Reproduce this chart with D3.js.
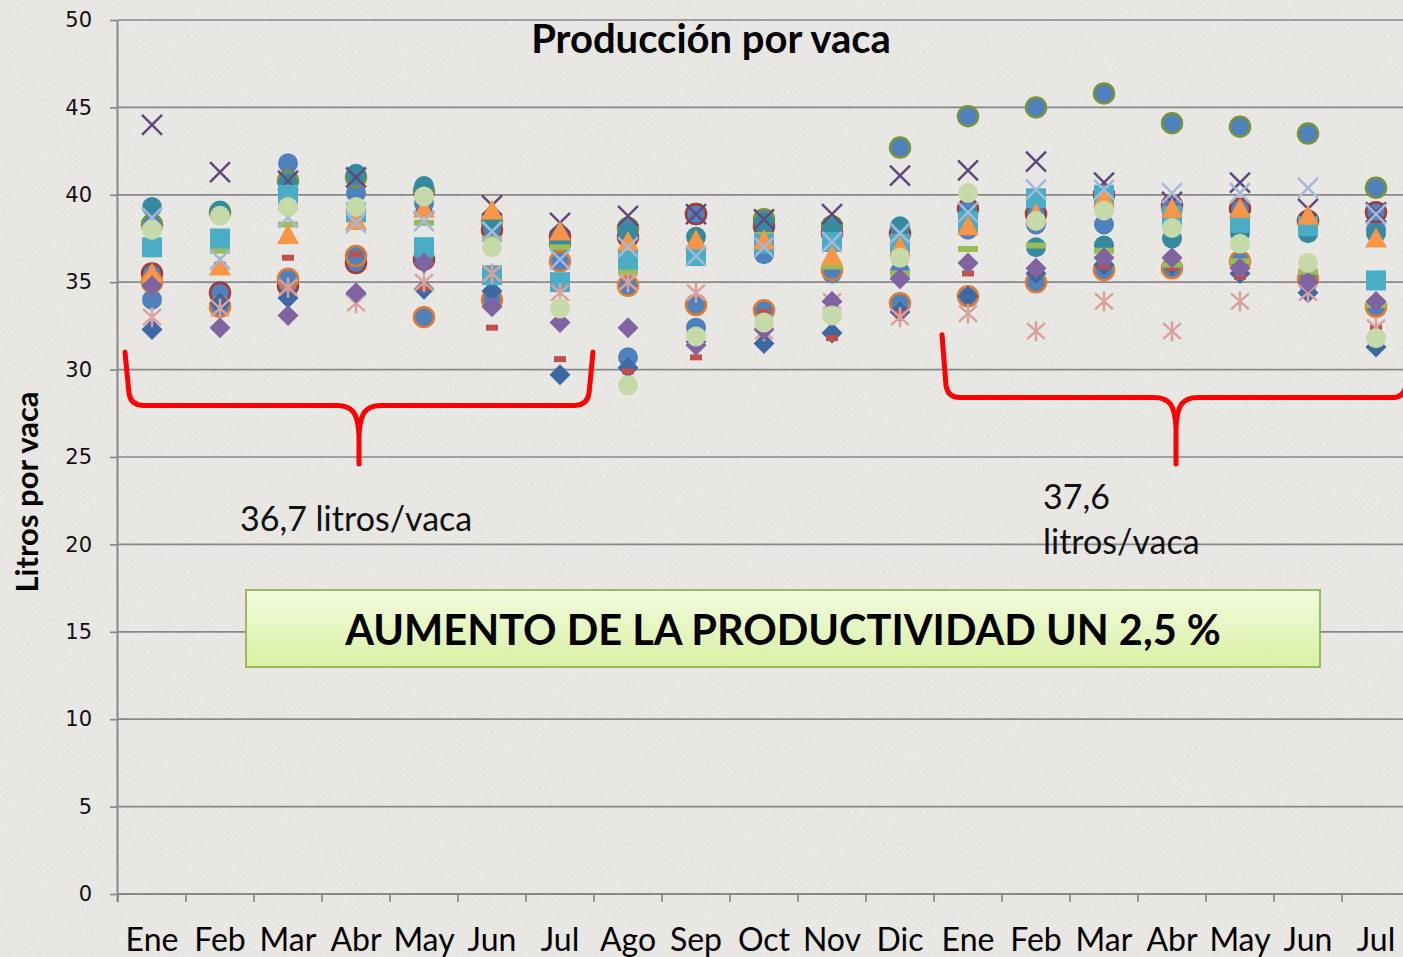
<!DOCTYPE html>
<meta charset="utf-8">
<style>
body { margin: 0; background: #ebeae6; }
svg { display: block; }
.tick text { font-family: "DejaVu Sans", sans-serif; font-size: 21px; fill: #111; }
</style>

<svg width="1403" height="957"></svg>

<script src="https://d3js.org/d3.v7.min.js"></script>
<script>

var svg = d3.select("svg"),
    width = +svg.attr("width"),
    height = +svg.attr("height");

// meses (dos años)
var meses = ["Ene","Feb","Mar","Abr","May","Jun","Jul","Ago","Sep","Oct","Nov","Dic",
             "Ene","Feb","Mar","Abr","May","Jun","Jul"];

var yTicks = [0, 5, 10, 15, 20, 25, 30, 35, 40, 45, 50];

// litros por vaca, una lista por explotación
var diamanteAzul   = [32.3,33.8,34.1,34.3,34.6,34.5,29.7,30.1,31.6,31.5,32.1,33.3,34.2,35.5,36.0,36.0,35.5,34.4,31.3];
var guionRojo      = [35.4,36.0,36.4,36.6,34.7,32.4,30.6,29.9,30.7,33.3,31.8,33.2,35.5,35.6,35.9,35.8,35.3,35.3,32.4];
var guionVerde     = [36.9,36.8,38.3,38.6,38.4,37.5,37.0,35.6,36.6,37.7,35.9,35.5,36.9,37.1,36.8,36.0,36.2,35.6,33.7];
var circuloAzul    = [34.0,34.5,41.8,40.1,39.5,38.2,37.0,30.7,32.4,36.6,35.5,35.6,38.0,38.3,38.3,38.5,38.0,35.0,38.0];
var anilloVerde    = [38.3,39.0,40.8,41.0,40.2,38.5,37.2,38.1,38.9,38.6,38.2,42.7,44.5,45.0,45.8,44.1,43.9,43.5,40.4];
var anilloRojo     = [35.5,34.4,34.8,36.1,36.3,38.0,37.6,37.6,38.9,38.2,37.8,37.8,39.2,38.9,40.0,39.4,39.2,38.5,39.0];
var circuloTeal    = [39.3,39.1,40.6,41.2,40.5,38.4,37.4,37.8,37.6,38.4,38.0,38.2,38.7,37.0,37.1,37.5,37.8,37.8,37.8];
var anilloNaranja  = [35.0,33.6,35.2,36.5,33.0,34.0,36.2,34.8,33.7,33.4,35.7,33.8,34.2,35.0,35.7,35.8,36.2,35.2,33.6];
var cuadradoCian   = [37.0,37.5,40.0,39.0,37.0,35.4,35.0,36.3,36.5,37.2,37.3,37.2,38.5,39.8,40.0,38.8,38.4,38.2,35.1];
var trianguloNar   = [35.5,35.9,37.7,38.5,39.2,39.1,37.9,37.3,37.4,37.4,36.5,37.0,38.2,38.9,39.8,39.2,39.2,38.8,37.5];
var aspaMorada     = [44.0,41.3,40.8,41.0,39.5,39.4,38.4,38.8,38.9,38.6,38.9,41.1,41.4,41.9,40.7,39.6,40.7,39.2,39.0];
var aspaCeleste    = [38.7,36.3,38.7,38.4,38.5,37.9,36.3,37.0,36.5,37.0,37.3,37.8,39.0,40.3,40.3,40.1,40.1,40.4,38.9];
var asteriscoRosa  = [33.0,33.5,34.7,33.8,35.0,35.5,34.4,35.0,34.4,32.2,33.9,33.0,33.2,32.2,33.9,32.2,33.9,34.4,32.4];
var diamanteMorado = [34.8,32.4,33.1,34.4,36.1,33.6,32.7,32.4,31.4,32.3,33.9,35.2,36.1,35.8,36.4,36.4,35.8,35.0,33.9];
var circuloVerdeCl = [38.0,38.8,39.3,39.3,39.9,37.0,33.5,29.1,31.9,32.7,33.1,36.4,40.1,38.5,39.1,38.1,37.2,36.1,31.8];

// orden de dibujo y estilo de cada serie
var series = [
  {v: circuloAzul,    m: "circle",   fill: "#4f81bd"},
  {v: anilloVerde,    m: "circle",   fill: "#4f81bd", stroke: "#77933c"},
  {v: anilloRojo,     m: "circle",   fill: "#4f81bd", stroke: "#a33b38"},
  {v: circuloTeal,    m: "circle",   fill: "#358a9f"},
  {v: anilloNaranja,  m: "circle",   fill: "#4f81bd", stroke: "#e07b2f"},
  {v: diamanteAzul,   m: "diamond",  fill: "#3d68a2"},
  {v: guionRojo,      m: "dashS",    fill: "#c0504d"},
  {v: guionVerde,     m: "dashL",    fill: "#9bbb59"},
  {v: aspaMorada,     m: "x",        line: "#604a7b"},
  {v: cuadradoCian,   m: "square",   fill: "#4bacc6"},
  {v: trianguloNar,   m: "triangle", fill: "#f79646"},
  {v: aspaCeleste,    m: "x",        line: "#a3b9db"},
  {v: asteriscoRosa,  m: "star",     line: "#d9a09e"},
  {v: diamanteMorado, m: "diamond",  fill: "#8064a2"},
  {v: circuloVerdeCl, m: "circle",   fill: "#c6d9a9"}
];

var x = d3.scaleBand().domain(d3.range(meses.length)).range([118, 1410]);
var y = d3.scaleLinear().domain([0, 50]).range([894, 20]);

// fondo tipo papel
var defs = svg.append("defs");
var f = defs.append("filter").attr("id", "papel").attr("x", 0).attr("y", 0).attr("width", 1).attr("height", 1);
f.append("feTurbulence").attr("type", "fractalNoise").attr("baseFrequency", 0.7).attr("numOctaves", 3).attr("seed", 4);
f.append("feColorMatrix").attr("type", "saturate").attr("values", 0);
var g = defs.append("linearGradient").attr("id", "verde").attr("x1", 0).attr("y1", 0).attr("x2", 0).attr("y2", 1);
g.append("stop").attr("offset", "0%").attr("stop-color", "#f3fbdf");
g.append("stop").attr("offset", "100%").attr("stop-color", "#d8f0a4");

svg.append("rect").attr("width", width).attr("height", height).attr("fill", "#ebeae6");
svg.append("rect").attr("width", width).attr("height", height).attr("filter", "url(#papel)").attr("opacity", 0.13);

// rejilla
svg.append("g")
  .selectAll("line")
  .data(yTicks.slice(1))
  .enter().append("line")
    .attr("x1", x.range()[0]).attr("x2", width)
    .attr("y1", d => y(d)).attr("y2", d => y(d))
    .attr("stroke", "#888").attr("stroke-width", 1.7);

// eje y
var ejeY = svg.append("g")
    .attr("transform", "translate(" + x.range()[0] + ",0)")
    .call(d3.axisLeft(y).tickValues(yTicks).tickSize(8).tickPadding(18));
ejeY.select(".domain").attr("stroke", "#888").attr("stroke-width", 2).attr("d", "M-0.5," + y(50) + "V" + (y(0) + 8));
ejeY.selectAll(".tick line").attr("stroke", "#888").attr("stroke-width", 1.7);

// eje x (marcas en los límites de cada mes)
var limites = d3.range(meses.length + 1).map(i => i < meses.length ? x(i) : x(i - 1) + x.bandwidth());
svg.append("line")
    .attr("x1", x.range()[0]).attr("x2", width)
    .attr("y1", y(0)).attr("y2", y(0))
    .attr("stroke", "#888").attr("stroke-width", 2);
svg.append("g")
  .selectAll("line")
  .data(limites)
  .enter().append("line")
    .attr("x1", d => d).attr("x2", d => d)
    .attr("y1", y(0)).attr("y2", y(0) + 8)
    .attr("stroke", "#888").attr("stroke-width", 1.7);
svg.append("g")
  .selectAll("text")
  .data(meses)
  .enter().append("text")
    .attr("x", (d, i) => x(i) + x.bandwidth() / 2)
    .attr("y", 951)
    .attr("text-anchor", "middle")
    .style("font-family", "Lato, sans-serif")
    .style("font-size", "32px")
    .attr("fill", "#000")
    .text(d => d);

// título y etiqueta del eje
svg.append("text")
    .attr("x", 711).attr("y", 53)
    .attr("text-anchor", "middle")
    .style("font-family", "Lato, sans-serif").style("font-weight", "bold").style("font-size", "40px")
    .text("Producción por vaca");

svg.append("text")
    .attr("transform", "translate(38," + 492 + ") rotate(-90)")
    .attr("text-anchor", "middle")
    .style("font-family", "Lato, sans-serif").style("font-weight", "bold").style("font-size", "31px")
    .text("Litros por vaca");

// marcadores
function forma(m) {
  switch (m) {
    case "circle":   return "M-10,0A10,10 0 1,1 10,0A10,10 0 1,1 -10,0Z";
    case "diamond":  return "M0,-10.5L10.5,0L0,10.5L-10.5,0Z";
    case "square":   return "M-10,-10H10V10H-10Z";
    case "triangle": return "M0,-11L11,9H-11Z";
    case "dashS":    return "M-6,-3H6V3H-6Z";
    case "dashL":    return "M-10,-3H10V3H-10Z";
    case "x":        return "M-10,-10L10,10M-10,10L10,-10";
    case "star":     return "M-9,-8L9,8M-9,8L9,-8M0,-10V10";
  }
}

series.forEach(function(s) {
  svg.append("g")
    .selectAll("path")
    .data(s.v)
    .enter().append("path")
      .attr("transform", (d, i) => "translate(" + (x(i) + x.bandwidth() / 2) + "," + y(d) + ")")
      .attr("d", forma(s.m))
      .attr("fill", s.line ? "none" : s.fill)
      .attr("stroke", s.line ? s.line : (s.stroke || "none"))
      .attr("stroke-width", 2.5);
});

// llaves rojas
function llave(x0, x1, yTop, yH, yP) {
  var xm = (x0 + x1) / 2;
  return "M" + x0 + "," + yTop +
         "L" + (x0 + 4) + "," + (yH - 12) +
         "Q" + (x0 + 6) + "," + yH + " " + (x0 + 18) + "," + yH +
         "L" + (xm - 22) + "," + yH +
         "C" + (xm - 6) + "," + yH + " " + (xm - 1) + "," + (yH + 8) + " " + xm + "," + (yH + 30) +
         "L" + xm + "," + yP +
         "M" + xm + "," + (yH + 30) +
         "C" + (xm + 1) + "," + (yH + 8) + " " + (xm + 6) + "," + yH + " " + (xm + 22) + "," + yH +
         "L" + (x1 - 18) + "," + yH +
         "Q" + (x1 - 6) + "," + yH + " " + (x1 - 4) + "," + (yH - 12) +
         "L" + x1 + "," + yTop;
}

svg.append("path")
    .attr("d", llave(x(0) + 7, x(6) + x.bandwidth() - 1, y(31.0), y(27.95), y(24.6)))
    .attr("fill", "none").attr("stroke", "#ff0000").attr("stroke-width", 5)
    .attr("stroke-linecap", "round").attr("stroke-linejoin", "round");
svg.append("path")
    .attr("d", llave(x(12) + 8, x(18) + x.bandwidth(), y(32.0), y(28.4), y(24.6)))
    .attr("fill", "none").attr("stroke", "#ff0000").attr("stroke-width", 5)
    .attr("stroke-linecap", "round").attr("stroke-linejoin", "round");

var nota = svg.append("g")
    .style("font-family", "Lato, sans-serif").style("font-size", "34px").attr("fill", "#111");
nota.append("text").attr("x", 240).attr("y", 531).text("36,7 litros/vaca");
nota.append("text").attr("x", 1043).attr("y", 509).text("37,6");
nota.append("text").attr("x", 1043).attr("y", 554).text("litros/vaca");

// recuadro
svg.append("rect")
    .attr("x", 246).attr("y", 590).attr("width", 1074).attr("height", 77)
    .attr("fill", "url(#verde)").attr("stroke", "#9bbb59").attr("stroke-width", 2);
svg.append("text")
    .attr("x", 783).attr("y", 645)
    .attr("text-anchor", "middle")
    .style("font-family", "Lato, sans-serif").style("font-weight", "bold").style("font-size", "41.5px")
    .text("AUMENTO DE LA PRODUCTIVIDAD UN 2,5 %");

</script>
